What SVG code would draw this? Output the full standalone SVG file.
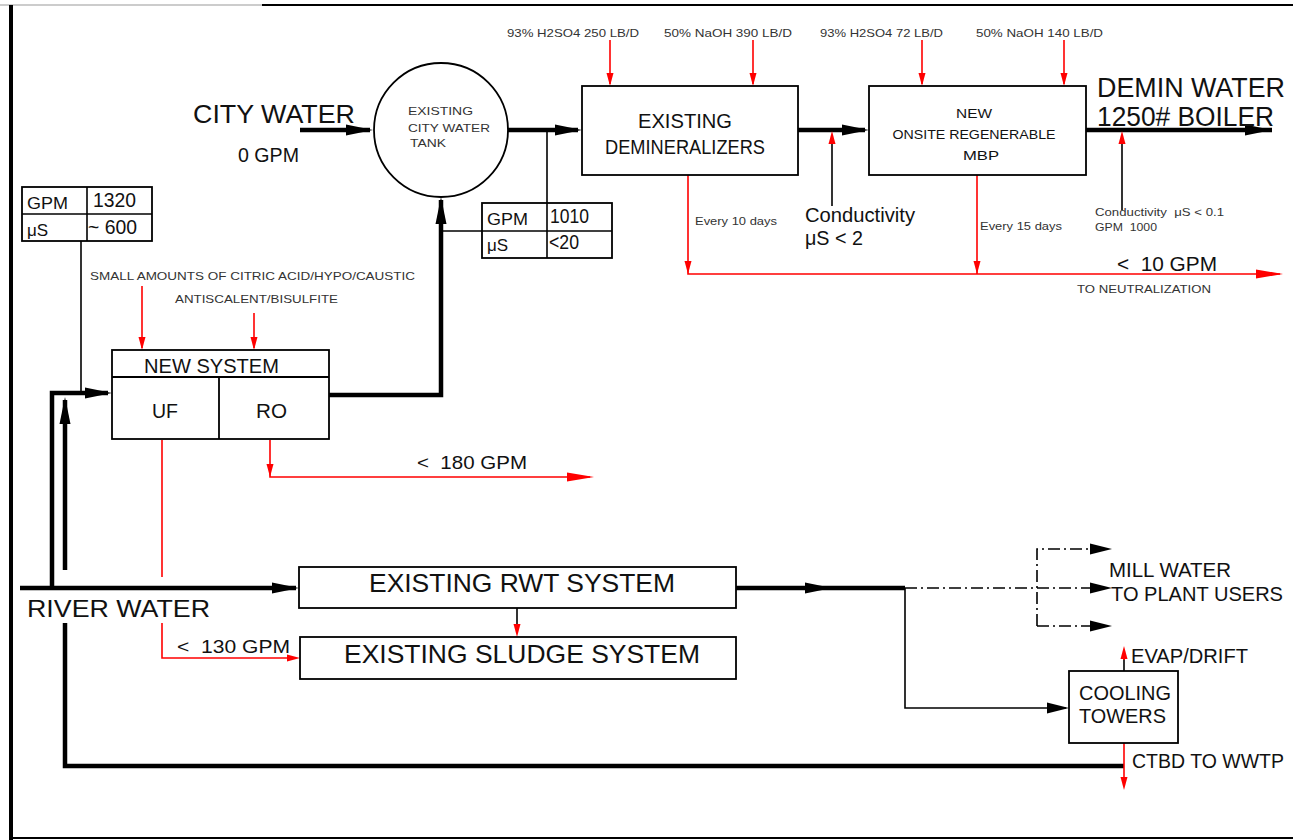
<svg xmlns="http://www.w3.org/2000/svg" xmlns:xlink="http://www.w3.org/1999/xlink" width="1293" height="840" viewBox="0 0 1293 840">
<defs>
<style>
.t{font-family:"Liberation Sans",Arial,sans-serif;fill:#111}
.s{font-family:"Liberation Sans",Arial,sans-serif;fill:#333;font-size:11px}
.thick{stroke:#000;stroke-width:4.5;fill:none}
.thin{stroke:#000;stroke-width:1.6;fill:none}
.red{stroke:#f00;stroke-width:1.6;fill:none}
.dd{stroke:#000;stroke-width:1.6;fill:none;stroke-dasharray:12 4 2 4}
.box{fill:#fff;stroke:#000;stroke-width:1.8}
.ka{fill:#000}
.ra{fill:#f00}
</style>
<path id="ah" d="M0,0 L-27,-5.5 L-27,5.5 Z"/>
<path id="am" d="M0,0 L-22,-5.5 L-22,5.5 Z"/>
<path id="ar" d="M0,0 L-27,-4.5 L-27,4.5 Z"/>
<path id="as" d="M0,0 L-13,-3.5 L-13,3.5 Z"/>
</defs>
<rect width="1293" height="840" fill="#fff"/>
<g id="frame">
<line x1="0" y1="5" x2="262" y2="5" stroke="#ccc" stroke-width="2"/>
<line x1="262" y1="5" x2="1293" y2="5" stroke="#000" stroke-width="2"/>
<line x1="11" y1="5" x2="11" y2="840" stroke="#000" stroke-width="4"/>
<line x1="11" y1="838" x2="1293" y2="838" stroke="#000" stroke-width="2"/>
</g>
<g id="connectors">
<path class="thick" d="M300,130 H370"/>
<use href="#ah" class="ka" transform="translate(373,130)"/>
<path class="thick" d="M508,130 H578"/>
<use href="#ah" class="ka" transform="translate(582,130)"/>
<path class="thick" d="M798,130 H865"/>
<use href="#ah" class="ka" transform="translate(869,130)"/>
<path class="thick" d="M1086,130 H1272"/>
<use href="#ah" class="ka" transform="translate(1272,130)"/>
<path class="thick" d="M329,395 H441 V200"/>
<use href="#ah" class="ka" transform="translate(441,197) rotate(-90)"/>
<path class="thin" d="M547,130 V203"/>
<path class="thin" d="M441,231 H482"/>
<path class="thin" d="M81,241 V393"/>
<path class="thick" d="M52,588 V393 H108"/>
<use href="#ah" class="ka" transform="translate(112,393)"/>
<path class="thick" d="M65,570 V400"/>
<use href="#ah" class="ka" transform="translate(65,397) rotate(-90)"/>
<path class="thick" d="M65,623 V766 H1124"/>
<path class="thick" d="M20,588 H296"/>
<use href="#ah" class="ka" transform="translate(299,588)"/>
<path class="thick" d="M736,588 H905"/>
<use href="#ah" class="ka" transform="translate(832,588)"/>
<path class="dd" d="M905,588 H1105"/>
<use href="#am" class="ka" transform="translate(1112,588)"/>
<path class="dd" d="M1037,626 V549 H1105"/>
<use href="#am" class="ka" transform="translate(1112,549)"/>
<path class="dd" d="M1037,626 H1105"/>
<use href="#am" class="ka" transform="translate(1112,626)"/>
<path class="thin" d="M905,588 V708 H1066"/>
<use href="#am" class="ka" transform="translate(1069,708)"/>
<path class="thin" d="M517,608 V633"/>
<use href="#as" class="ra" transform="translate(517,637) rotate(90)"/>
<path class="thin" d="M832,206 V140"/>
<use href="#as" class="ra" transform="translate(832,131) rotate(-90)"/>
<path class="thin" d="M1122,210 V140"/>
<use href="#as" class="ra" transform="translate(1122,131) rotate(-90)"/>
<path class="thin" d="M1124,671 V658"/>
<path class="red" d="M1124,660 V650"/>
<use href="#as" class="ra" transform="translate(1124,646) rotate(-90)"/>
<path class="red" d="M1124,743 V786"/>
<use href="#as" class="ra" transform="translate(1124,790) rotate(90)"/>
<path class="red" d="M610,40 V84"/>
<use href="#as" class="ra" transform="translate(610,86) rotate(90)"/>
<path class="red" d="M753,40 V84"/>
<use href="#as" class="ra" transform="translate(753,86) rotate(90)"/>
<path class="red" d="M922,40 V84"/>
<use href="#as" class="ra" transform="translate(922,86) rotate(90)"/>
<path class="red" d="M1064,40 V84"/>
<use href="#as" class="ra" transform="translate(1064,86) rotate(90)"/>
<path class="red" d="M142,286 V348"/>
<use href="#as" class="ra" transform="translate(142,350) rotate(90)"/>
<path class="red" d="M254,313 V348"/>
<use href="#as" class="ra" transform="translate(254,350) rotate(90)"/>
<path class="red" d="M688,175 V274 H1280"/>
<use href="#as" class="ra" transform="translate(688,274) rotate(90)"/>
<use href="#ar" class="ra" transform="translate(1283,274)"/>
<path class="red" d="M977,175 V274"/>
<use href="#as" class="ra" transform="translate(977,274) rotate(90)"/>
<path class="red" d="M270,440 V477 H590"/>
<use href="#as" class="ra" transform="translate(270,477) rotate(90)"/>
<use href="#ar" class="ra" transform="translate(594,477)"/>
<path class="red" d="M162,440 V577"/>
<path class="red" d="M162,623 V658 H296"/>
<use href="#as" class="ra" transform="translate(300,658)"/>
</g>
<g id="city-water">
<text class="t" x="193" y="123" font-size="25" textLength="162" lengthAdjust="spacingAndGlyphs">CITY WATER</text>
<text class="t" x="238" y="162" font-size="20" textLength="61" lengthAdjust="spacingAndGlyphs">0 GPM</text>
</g>
<g id="tank">
<circle cx="441" cy="130" r="67" fill="#fff" stroke="#000" stroke-width="1.8"/>
<text class="s" x="408" y="115" font-size="12" textLength="65" lengthAdjust="spacingAndGlyphs">EXISTING</text>
<text class="s" x="408" y="132" font-size="12" textLength="82" lengthAdjust="spacingAndGlyphs">CITY WATER</text>
<text class="s" x="410" y="147" font-size="12" textLength="36" lengthAdjust="spacingAndGlyphs">TANK</text>
</g>
<g id="box-1010">
<rect x="482" y="203" width="130" height="55" fill="#fff" stroke="#000" stroke-width="1.8"/>
<line x1="482" y1="231" x2="612" y2="231" stroke="#000" stroke-width="1.6"/>
<line x1="547" y1="203" x2="547" y2="258" stroke="#000" stroke-width="1.6"/>
<text class="t" x="487" y="225" font-size="17" textLength="41" lengthAdjust="spacingAndGlyphs">GPM</text>
<text class="t" x="550" y="223" font-size="20" textLength="39" lengthAdjust="spacingAndGlyphs">1010</text>
<text class="t" x="487" y="251" font-size="17">μS</text>
<text class="t" x="549" y="249" font-size="20" textLength="30" lengthAdjust="spacingAndGlyphs">&lt;20</text>
</g>
<g id="box-1320">
<rect x="22" y="187" width="130" height="54" fill="#fff" stroke="#000" stroke-width="1.8"/>
<line x1="22" y1="214" x2="152" y2="214" stroke="#000" stroke-width="1.6"/>
<line x1="87" y1="187" x2="87" y2="241" stroke="#000" stroke-width="1.6"/>
<text class="t" x="27" y="209" font-size="17" textLength="41" lengthAdjust="spacingAndGlyphs">GPM</text>
<text class="t" x="93" y="207" font-size="20" textLength="43" lengthAdjust="spacingAndGlyphs">1320</text>
<text class="t" x="27" y="236" font-size="17">μS</text>
<text class="t" x="88" y="234" font-size="20" textLength="49" lengthAdjust="spacingAndGlyphs">~ 600</text>
</g>
<g id="demineralizers">
<rect class="box" x="582" y="86" width="216" height="89"/>
<text class="t" x="638" y="128" font-size="20" textLength="94" lengthAdjust="spacingAndGlyphs">EXISTING</text>
<text class="t" x="605" y="154" font-size="20" textLength="160" lengthAdjust="spacingAndGlyphs">DEMINERALIZERS</text>
</g>
<g id="chemicals">
<text class="s" x="507" y="37" textLength="132" lengthAdjust="spacingAndGlyphs">93% H2SO4 250 LB/D</text>
<text class="s" x="664" y="37" textLength="128" lengthAdjust="spacingAndGlyphs">50% NaOH 390 LB/D</text>
<text class="s" x="820" y="37" textLength="123" lengthAdjust="spacingAndGlyphs">93% H2SO4 72 LB/D</text>
<text class="s" x="976" y="37" textLength="127" lengthAdjust="spacingAndGlyphs">50% NaOH 140 LB/D</text>
<text class="s" x="90" y="280" textLength="325" lengthAdjust="spacingAndGlyphs">SMALL AMOUNTS OF CITRIC ACID/HYPO/CAUSTIC</text>
<text class="s" x="175" y="303" textLength="163" lengthAdjust="spacingAndGlyphs">ANTISCALENT/BISULFITE</text>
</g>
<g id="mbp">
<rect class="box" x="869" y="86" width="217" height="89"/>
<text class="t" x="974" y="118" font-size="13" text-anchor="middle" textLength="36" lengthAdjust="spacingAndGlyphs">NEW</text>
<text class="t" x="974" y="139" font-size="13" text-anchor="middle" textLength="163" lengthAdjust="spacingAndGlyphs">ONSITE REGENERABLE</text>
<text class="t" x="981" y="160" font-size="13" text-anchor="middle" textLength="36" lengthAdjust="spacingAndGlyphs">MBP</text>
</g>
<g id="demin-water">
<text class="t" x="1097" y="97" font-size="27" textLength="188" lengthAdjust="spacingAndGlyphs">DEMIN WATER</text>
<text class="t" x="1097" y="126" font-size="27" textLength="177" lengthAdjust="spacingAndGlyphs">1250# BOILER</text>
</g>
<g id="conductivity-labels">
<text class="t" x="805" y="222" font-size="20" textLength="110" lengthAdjust="spacingAndGlyphs">Conductivity</text>
<text class="t" x="805" y="245" font-size="20" textLength="58" lengthAdjust="spacingAndGlyphs">μS &lt; 2</text>
<text class="s" x="1095" y="216" textLength="129" lengthAdjust="spacingAndGlyphs">Conductivity&#160; μS &lt; 0.1</text>
<text class="s" x="1095" y="231" textLength="62" lengthAdjust="spacingAndGlyphs">GPM&#160; 1000</text>
<text class="s" x="695" y="225" textLength="82" lengthAdjust="spacingAndGlyphs">Every 10 days</text>
<text class="s" x="980" y="230" textLength="82" lengthAdjust="spacingAndGlyphs">Every 15 days</text>
<text class="t" x="1117" y="271" font-size="20" textLength="100" lengthAdjust="spacingAndGlyphs">&lt;&#160; 10 GPM</text>
<text class="s" x="1077" y="293" textLength="134" lengthAdjust="spacingAndGlyphs">TO NEUTRALIZATION</text>
</g>
<g id="new-system">
<rect class="box" x="112" y="350" width="217" height="89"/>
<line x1="112" y1="377" x2="329" y2="377" stroke="#000" stroke-width="1.8"/>
<line x1="219" y1="377" x2="219" y2="439" stroke="#000" stroke-width="1.8"/>
<text class="t" x="144" y="373" font-size="21" textLength="135" lengthAdjust="spacingAndGlyphs">NEW SYSTEM</text>
<text class="t" x="152" y="418" font-size="20" textLength="26" lengthAdjust="spacingAndGlyphs">UF</text>
<text class="t" x="256" y="418" font-size="20" textLength="31" lengthAdjust="spacingAndGlyphs">RO</text>
</g>
<g id="flow-labels">
<text class="t" x="417" y="469" font-size="19" textLength="110" lengthAdjust="spacingAndGlyphs">&lt;&#160; 180 GPM</text>
<text class="t" x="177" y="653" font-size="18" textLength="113" lengthAdjust="spacingAndGlyphs">&lt;&#160; 130 GPM</text>
<text class="t" x="27" y="617" font-size="24" textLength="183" lengthAdjust="spacingAndGlyphs">RIVER WATER</text>
</g>
<g id="rwt-system">
<rect class="box" x="299" y="567" width="437" height="41"/>
<text class="t" x="369" y="592" font-size="25" textLength="306" lengthAdjust="spacingAndGlyphs">EXISTING RWT SYSTEM</text>
</g>
<g id="sludge-system">
<rect class="box" x="300" y="637" width="436" height="42"/>
<text class="t" x="344" y="663" font-size="25" textLength="356" lengthAdjust="spacingAndGlyphs">EXISTING SLUDGE SYSTEM</text>
</g>
<g id="mill-water">
<text class="t" x="1109" y="577" font-size="21" textLength="122" lengthAdjust="spacingAndGlyphs">MILL WATER</text>
<text class="t" x="1111" y="601" font-size="21" textLength="172" lengthAdjust="spacingAndGlyphs">TO PLANT USERS</text>
</g>
<g id="cooling-towers">
<rect class="box" x="1069" y="671" width="109" height="72"/>
<text class="t" x="1079" y="700" font-size="21" textLength="92" lengthAdjust="spacingAndGlyphs">COOLING</text>
<text class="t" x="1079" y="723" font-size="21" textLength="87" lengthAdjust="spacingAndGlyphs">TOWERS</text>
<text class="t" x="1131" y="663" font-size="21" textLength="117" lengthAdjust="spacingAndGlyphs">EVAP/DRIFT</text>
<text class="t" x="1132" y="768" font-size="20" textLength="152" lengthAdjust="spacingAndGlyphs">CTBD TO WWTP</text>
</g>
</svg>
